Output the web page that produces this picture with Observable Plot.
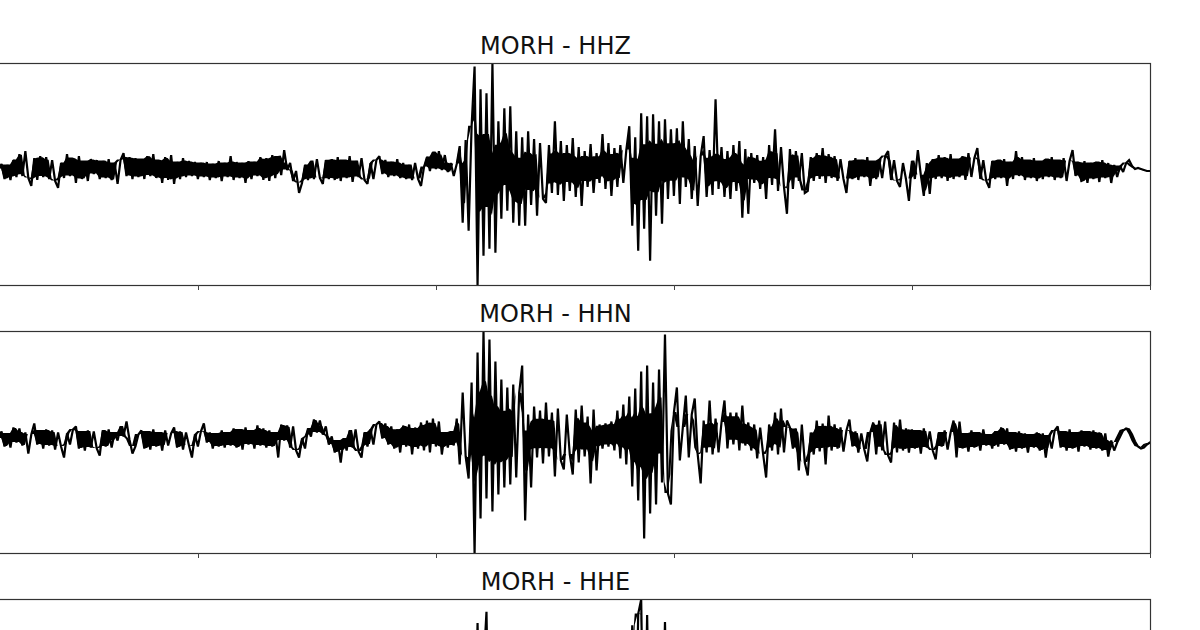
<!DOCTYPE html>
<html><head><meta charset="utf-8">
<script src="https://cdn.jsdelivr.net/npm/d3@7"></script>
<script src="https://cdn.jsdelivr.net/npm/@observablehq/plot@0.6"></script>
<style>
html,body{margin:0;padding:0;background:#fff;overflow:hidden;width:1200px;height:630px;}
#chart{position:absolute;left:-40px;top:23px;width:1240px;}
#chart svg{display:block;max-width:none;}
</style></head><body><div id="chart"></div>
<script>
const station = "MORH";
const channels = ["HHZ", "HHN", "HHE"];
const startTime = 16;      // seconds
const sampleStep = 1.25;   // seconds between plotted samples
const timeDomain = [0, 500];
const xTicks = [0, 100, 200, 300, 400, 500];

const hhz = [
6,11,-4,10,-5,15,-2,21,-1,24,-3,-11,17,-5,19,-2,
18,-4,15,-6,-13,12,-3,21,-1,17,-8,19,-4,14,-6,16,
1,15,-4,14,-3,16,-5,12,-9,15,22,-1,18,-4,17,-2,
16,-4,19,-1,21,-3,15,-8,18,-5,20,-9,13,-4,17,-2,
14,-1,13,-4,12,-2,13,-5,11,-3,14,-6,12,-2,19,-5,
13,-3,12,-8,14,-4,13,-1,18,-5,17,-6,20,-3,19,0,
25,5,12,-6,4,-18,-8,10,-5,14,-4,16,-3,-9,15,-4,
16,-5,18,-6,15,-3,19,-7,14,-2,17,-5,-9,12,-4,15,
19,1,15,-2,13,-1,16,-3,12,-4,10,-5,12,-4,-11,8,
18,4,23,6,24,5,20,3,12,-1,11,29,-48,35,-56,49,
109,-111,86,-81,82,-74,112,-78,54,-44,67,-36,69,-48,44,-51,
38,-51,44,-30,36,-41,32,-24,-28,30,-18,54,-20,34,-26,30,
-16,37,-22,28,-31,24,-12,31,-18,22,-8,41,-14,32,-21,27,
-12,30,-8,25,49,-51,38,-76,62,-54,59,-86,61,-41,54,-49,
56,-24,46,-21,47,-29,54,-12,36,-24,29,-31,19,39,-22,25,
-20,76,-14,28,-22,24,-24,30,-16,34,-43,26,-39,22,-8,20,
-14,18,-24,30,-10,46,-16,28,-12,-39,26,-14,24,-6,22,-18,
-16,18,-6,22,-4,27,-8,21,-3,19,-6,16,-4,-18,14,-4,
17,-5,15,-2,18,-11,14,-4,16,-3,19,24,-5,15,-6,-12,
12,-4,-26,14,-4,25,0,-21,12,-19,16,-4,20,-3,18,-6,
21,-4,16,-2,19,-5,22,-2,17,27,-4,15,-6,-13,14,-4,
15,-3,16,-11,13,-4,24,-1,18,-5,15,-3,17,-6,14,-4,
16,-2,18,-5,15,-3,17,-6,14,25,-1,13,-7,14,-8,12,
-4,13,-7,15,-3,12,-8,10,-2,9,3,12,15,9,6,7,
6,5,4,4
];

const hhn = [
4,11,-4,9,-5,15,0,14,-3,10,-11,8,19,-2,12,-6,
13,-3,12,-7,10,-4,-15,9,-2,13,16,-6,11,-8,12,-5,
11,-6,-13,12,-4,13,-5,10,2,16,6,21,3,-11,-4,8,
12,-6,11,-7,13,-4,10,-8,12,-3,9,15,-5,11,-7,10,
-3,-15,8,-4,11,19,0,10,-6,9,-4,12,-5,10,-3,14,
-5,13,-7,15,-2,12,-6,17,-3,14,-5,12,-4,10,-15,18,
2,17,-5,16,-8,-15,4,-6,14,6,23,10,22,8,16,-2,
6,-10,2,-20,4,-8,12,-5,13,-9,-15,10,-4,13,-2,18,
21,4,19,-2,16,-6,13,-10,17,-4,18,-12,15,-6,20,-8,
22,-10,24,-4,21,-12,10,-5,11,-3,24,-22,50,-14,-36,60,
-111,90,-76,111,-56,103,-69,81,-52,63,-45,55,-42,58,-35,50,
77,-78,28,-45,36,-15,32,-21,40,-14,30,-34,34,-18,-27,28,
-12,-32,33,-20,37,-14,26,-41,33,-28,18,-6,19,-4,21,-8,
32,-16,38,-22,46,-44,54,-58,71,-96,77,-71,60,-62,73,-40,
108,-51,-62,30,55,-18,15,47,-15,28,44,-12,-41,22,-10,42,
-12,24,-10,20,42,-6,30,-2,30,-8,37,-3,20,-8,18,-16,
15,-12,-35,18,-8,30,-12,34,-10,22,15,-6,14,-28,18,-20,
-33,10,-12,22,-9,19,-22,27,-8,18,-6,15,-9,12,23,-4,
11,-10,9,-7,-19,10,20,-12,22,-8,21,-13,-20,20,-10,23,
-8,14,-10,13,-6,12,-11,14,-5,11,-8,-17,10,-4,12,-7,
10,22,-15,21,-6,9,-9,12,-5,10,-8,13,-3,8,-6,11,
-4,15,-2,14,-7,10,-9,11,-6,9,-10,8,-5,10,-8,9,
-15,7,-6,12,16,-5,11,-8,13,-6,10,-9,12,-4,11,-7,
12,-6,10,-8,9,-14,2,-8,0,6,12,14,13,8,1,-4,
-6,-5,-2,0
];

const hhe = [
3,10,-5,8,-7,12,-2,9,-8,11,-4,7,-9,13,-3,10,
-6,9,-10,12,-5,14,-2,8,-7,11,-4,10,-8,6,-12,9,
-3,12,-6,10,-8,15,-1,11,-5,9,-9,12,-4,8,-7,13,
-5,10,-3,14,-8,9,-6,12,-2,11,-10,8,-4,13,-6,9,
-7,11,-3,10,-9,12,-5,8,-6,14,-2,9,-8,11,-4,10,
-6,13,-3,9,-11,12,-5,10,-2,15,-7,8,-4,11,-9,12,
-3,10,-6,16,2,18,-4,-14,6,-8,11,-5,9,-10,12,-3,
10,-7,13,-4,9,-12,11,-2,14,-6,8,-9,12,-3,16,-5,
15,-4,12,-9,14,-2,11,-7,17,-3,13,-10,12,-5,18,-6,
20,-8,18,-3,15,-10,9,-4,12,-2,22,-18,35,-25,-40,52,
-60,88,-70,45,99,-75,60,-55,70,-48,55,-40,62,-36,48,-42,
50,-45,38,-30,42,-26,35,-32,30,-20,40,-28,33,-22,36,-18,
28,-25,34,-18,30,-30,26,-14,32,-22,20,-10,24,-8,22,-12,
30,-18,40,-30,-20,86,-60,97,111,-80,96,-72,66,-65,58,-50,
89,-55,60,-48,52,-40,45,-35,50,-30,38,-42,30,-25,42,-20,
35,-28,40,-22,30,-30,26,-18,34,-24,22,-16,28,-20,18,-12,
25,-18,20,-26,28,-10,22,-15,18,-20,24,-8,16,-14,20,-10,
18,-12,22,-8,15,-14,19,-6,14,-11,17,-5,13,-9,16,-4,
14,-10,12,-7,18,-12,11,-5,15,-9,13,-6,16,-11,10,-4,
13,-8,11,-12,15,-5,12,-9,10,-6,14,-10,9,-4,12,-7,
11,-9,14,-5,10,-8,13,-4,9,-10,12,-6,11,-3,8,-7,
12,-5,10,-9,13,-4,9,-7,11,-6,14,-3,8,-8,10,-5,
9,-7,12,-4,10,-9,8,-5,11,-6,13,-3,9,-8,10,-4,
8,-6,11,-3,9,-7,6,-2,4,8,12,15,11,5,0,-3,
-4,-3,-1,0
];

const traces = {HHZ: hhz, HHN: hhn, HHE: hhe};
const amplitudeDomains = {HHZ: [-111, 112], HHN: [-111, 111], HHE: [-105, 111]};

// Dense-trace rendering: the inner band that the zig-zag sweeps repeatedly
// (between consecutive running medians of three samples) is drawn solid;
// in loud stretches the band is narrowed so single spikes stand out as lines.
function denseRows(vals) {
  const med = vals.map((_, i) => d3.median(vals.slice(Math.max(0, i - 1), i + 2)));
  return vals.map((v, i) => {
    const a = med[i], b = i + 1 < med.length ? med[i + 1] : med[i];
    const c = (a + b) / 2, h = Math.abs(a - b) / 2;
    const hh = h <= 9 ? h : 9 + (h - 9) * 0.4;
    return {t: startTime + i * sampleStep, v, lo: c - hh, hi: c + hh};
  });
}

const chart = document.getElementById("chart");
for (const ch of channels) {
  const rows = denseRows(traces[ch]);
  const svg = Plot.plot({
    width: 1240,
    height: 268,
    marginTop: 40,
    marginBottom: 6,
    marginLeft: 0,
    marginRight: 50,
    x: {domain: timeDomain, axis: null},
    y: {domain: amplitudeDomains[ch], axis: null},
    style: {fontFamily: "DejaVu Sans", background: "transparent", overflow: "visible"},
    marks: [
      Plot.areaY(rows, {x: "t", y1: "lo", y2: "hi", fill: "#000"}),
      Plot.line(rows, {x: "t", y: "v", stroke: "#000", strokeWidth: 2.2, strokeLinejoin: "miter", strokeMiterlimit: 2}),
      Plot.frame({stroke: "#333", strokeWidth: 1.2}),
      Plot.axisX({ticks: xTicks, tickSize: 5, tickFormat: () => "", stroke: "#444", label: null}),
      Plot.text([`${station} - ${ch}`], {text: d => d, frameAnchor: "top", dy: -10, lineAnchor: "bottom", fontSize: 24, fill: "#111", fontFamily: "DejaVu Sans"})
    ]
  });
  chart.appendChild(svg);
}
</script>
</body></html>
